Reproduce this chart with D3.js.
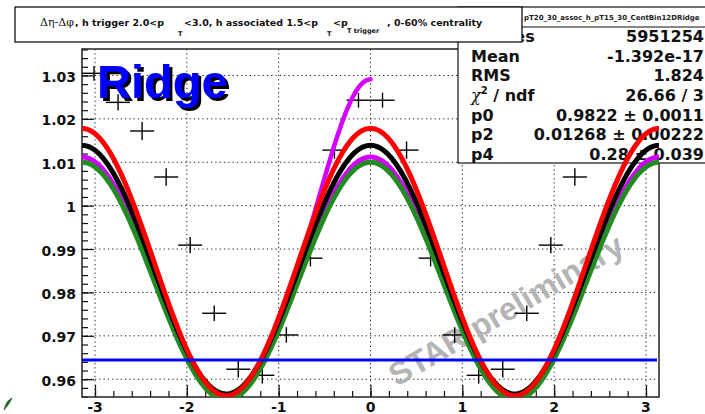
<!DOCTYPE html>
<html>
<head>
<meta charset="utf-8">
<script src="https://cdn.jsdelivr.net/npm/d3@7"></script>
<style>
  html, body { margin: 0; padding: 0; background: #fff; }
  svg { display: block; }
</style>
</head>
<body>
<svg id="chart" width="705" height="414"></svg>
<script>
// Δφ correlation, 24 bins over [-π, π]
const binCount = 24;
const phiRange = [-Math.PI, Math.PI];
const ridgeYield = [1.0305, 1.0238, 1.0172, 1.0066, 0.9909, 0.9752, 0.9623, 0.9609,
                    0.9702, 0.9879, 1.0128, 1.0243, 1.0243, 1.0128, 0.9879, 0.9702,
                    0.9609, 0.9623, 0.9752, 0.9909, 1.0066, 1.0172, 1.0238, 1.0305];
const ridgeError = [0.0017, 0.0019, 0.0021, 0.0020, 0.0019, 0.0018, 0.0019, 0.0019,
                    0.0018, 0.0019, 0.0020, 0.0017, 0.0017, 0.0020, 0.0019, 0.0018,
                    0.0019, 0.0019, 0.0018, 0.0019, 0.0020, 0.0021, 0.0019, 0.0017];

// flow fits: const + amp*cos(2Δφ), listed in drawing order
const fitConst  = [0.9833, 0.9826, 0.98525, 0.9870];
const fitAmp    = [0.0279, 0.0274, 0.02865, 0.0308];
const fitColour = ["#d400ff", "#228b22", "#000000", "#ff0000"];

// near-side gaussian added on top of the magenta flow term
const peakAmp = 0.0179;
const peakSigma = 0.395;
const peakPhiRange = [-0.75, 0];

// flat ZYAM level
const flatLevel = 0.9644;

const xTicks = [-3, -2, -1, 0, 1, 2, 3];
const xTickLabels = ["-3", "-2", "-1", "0", "1", "2", "3"];
const yTicks = [0.96, 0.97, 0.98, 0.99, 1.00, 1.01, 1.02, 1.03];
const yTickLabels = ["0.96", "0.97", "0.98", "0.99", "1", "1.01", "1.02", "1.03"];

const statLabels = ["Entries", "Mean", "RMS", "chi", "p0", "p2", "p4"];
const statValues = ["5951254", "-1.392e-17", "1.824", "26.66 / 3",
                     "0.9822 \u00b1 0.0011", "0.01268 \u00b1 0.00222", "0.28 \u00b1 0.039"];
const histName = "pT20_30_assoc_h_pT15_30_CentBin12DRidge";

const frame = { left: 82, right: 659, top: 49, bottom: 397 };
const rootFont = "'DejaVu Sans', sans-serif";
const svg = d3.select("#chart");

const x = d3.scaleLinear().domain(phiRange).range([frame.left, frame.right]);
const y = d3.scaleLinear().domain([0.9559, 1.0361]).range([frame.bottom, frame.top]);

const defs = svg.append("defs");
const shadow = defs.append("filter").attr("id", "dropShadow")
  .attr("x", "-10%").attr("y", "-10%").attr("width", "130%").attr("height", "140%");
shadow.append("feOffset").attr("in", "SourceAlpha").attr("dx", 3).attr("dy", 3).attr("result", "off");
const merge = shadow.append("feMerge");
merge.append("feMergeNode").attr("in", "off");
merge.append("feMergeNode").attr("in", "SourceGraphic");

svg.append("rect").attr("x", 0).attr("y", 0).attr("width", 705).attr("height", 414).attr("fill", "#fff");

// dotted grid at major ticks
const grid = svg.append("g").attr("stroke", "#222").attr("stroke-width", 1)
  .attr("stroke-dasharray", "1.3,3");
grid.selectAll("line.gx").data(xTicks).join("line")
  .attr("x1", d => x(d)).attr("x2", d => x(d))
  .attr("y1", frame.top).attr("y2", frame.bottom);
grid.selectAll("line.gy").data(yTicks).join("line")
  .attr("x1", frame.left).attr("x2", frame.right)
  .attr("y1", d => y(d)).attr("y2", d => y(d));

// watermark
svg.append("text")
  .attr("transform", "translate(397,387) rotate(-30.5)")
  .attr("font-family", "'Liberation Sans', Arial, sans-serif")
  .attr("font-weight", "bold").attr("font-size", 32)
  .attr("fill", "#b4b4b4")
  .text("STAR preliminary");

// axes (ticks inside the frame)
const styleTicks = g => g.call(s => s.select(".domain").remove())
  .call(s => s.selectAll("line").attr("stroke", "#111").attr("stroke-width", 1.2));
svg.append("g").attr("transform", `translate(${frame.left},0)`)
  .call(d3.axisRight(y).tickValues(d3.range(0.956, 1.0365, 0.002)).tickSize(6).tickFormat(""))
  .call(styleTicks);
svg.append("g").attr("transform", `translate(${frame.left},0)`)
  .call(d3.axisRight(y).tickValues(yTicks).tickSize(12).tickFormat(""))
  .call(styleTicks);
svg.append("g").attr("transform", `translate(0,${frame.bottom})`)
  .call(d3.axisTop(x).tickValues(d3.range(-3, 3.01, 0.2)).tickSize(6).tickFormat(""))
  .call(styleTicks);
svg.append("g").attr("transform", `translate(0,${frame.bottom})`)
  .call(d3.axisTop(x).tickValues(xTicks).tickSize(12).tickFormat(""))
  .call(styleTicks);

// tick labels
svg.append("g").selectAll("text").data(yTicks).join("text")
  .attr("x", 76).attr("y", d => y(d) + 6.5)
  .attr("text-anchor", "end")
  .attr("font-family", rootFont).attr("font-weight", "bold").attr("font-size", 14)
  .attr("fill", "#111")
  .text((d, i) => yTickLabels[i]);
svg.append("g").selectAll("text").data(xTicks).join("text")
  .attr("x", d => x(d)).attr("y", 411.5)
  .attr("text-anchor", "middle")
  .attr("font-family", rootFont).attr("font-weight", "bold").attr("font-size", 14)
  .attr("fill", "#111")
  .text((d, i) => xTickLabels[i]);

// frame outline
svg.append("rect")
  .attr("x", frame.left).attr("y", frame.top)
  .attr("width", frame.right - frame.left).attr("height", frame.bottom - frame.top)
  .attr("fill", "none").attr("stroke", "#222").attr("stroke-width", 1.5);

// histogram points with error bars
const binWidth = (phiRange[1] - phiRange[0]) / binCount;
const bins = ridgeYield.map((v, i) => ({
  phi: phiRange[0] + (i + 0.5) * binWidth, v, e: ridgeError[i]
}));
const pts = svg.append("g").attr("stroke", "#000").attr("stroke-width", 1.4);
pts.selectAll("line.h").data(bins).join("line")
  .attr("x1", d => x(d.phi - binWidth / 2)).attr("x2", d => x(d.phi + binWidth / 2))
  .attr("y1", d => y(d.v)).attr("y2", d => y(d.v));
pts.selectAll("line.v").data(bins).join("line")
  .attr("x1", d => x(d.phi)).attr("x2", d => x(d.phi))
  .attr("y1", d => y(d.v - d.e)).attr("y2", d => y(d.v + d.e));

// statistics box
const stats = svg.append("g");
stats.append("rect").attr("x", 458).attr("y", 7).attr("width", 260).attr("height", 156)
  .attr("fill", "#fff").attr("stroke", "#111").attr("stroke-width", 1.2);
stats.append("line").attr("x1", 458).attr("x2", 705).attr("y1", 27).attr("y2", 27)
  .attr("stroke", "#111").attr("stroke-width", 1.2);
stats.append("text").attr("x", 524).attr("y", 20)
  .attr("font-family", rootFont).attr("font-weight", "bold").attr("font-size", 7)
  .attr("fill", "#222").text(histName);
const rowY = i => 42 + i * 19.65;
statLabels.forEach((lab, i) => {
  const t = stats.append("text").attr("x", 471).attr("y", rowY(i))
    .attr("font-family", rootFont).attr("font-weight", "bold").attr("font-size", 16)
    .attr("fill", "#111");
  if (lab === "chi") {
    t.append("tspan").attr("font-family", "'DejaVu Serif', serif").attr("font-weight", "normal")
      .attr("font-style", "italic").text("\u03c7");
    t.append("tspan").attr("font-size", 10).attr("dy", -7).text("2");
    t.append("tspan").attr("dy", 7).text(" / ndf");
  } else {
    t.text(lab);
  }
  stats.append("text").attr("x", 704).attr("y", rowY(i))
    .attr("text-anchor", "end")
    .attr("font-family", rootFont).attr("font-weight", "bold").attr("font-size", 16)
    .attr("fill", "#111").text(statValues[i]);
});

// title pave
svg.append("rect").attr("x", 15).attr("y", 7).attr("width", 507).attr("height", 35)
  .attr("fill", "#fff").attr("stroke", "#111").attr("stroke-width", 1.3);
const title = svg.append("text").attr("y", 26)
  .attr("font-family", rootFont).attr("font-weight", "bold").attr("font-size", 9.5)
  .attr("fill", "#111");
title.append("tspan").attr("x", 40).attr("font-family", "'DejaVu Serif', serif")
  .attr("font-weight", "normal").attr("font-size", 11).text("\u0394\u03b7-\u0394\u03c6");
title.append("tspan").attr("x", 75).text(", h trigger 2.0<p");
title.append("tspan").attr("x", 178).attr("y", 36).attr("font-size", 6.5).text("T");
title.append("tspan").attr("x", 184).attr("y", 26).text("<3.0, h associated 1.5<p");
title.append("tspan").attr("x", 327).attr("y", 36).attr("font-size", 6.5).text("T");
title.append("tspan").attr("x", 333).attr("y", 26).text("<p");
title.append("tspan").attr("x", 347).attr("y", 33).attr("font-size", 6.5).text("T trigger");
title.append("tspan").attr("x", 387).attr("y", 26).text(", 0-60% centrality");

// fit curves, clipped to the frame
defs.append("clipPath").attr("id", "frameClip").append("rect")
  .attr("x", frame.left).attr("y", frame.top)
  .attr("width", frame.right - frame.left).attr("height", frame.bottom - frame.top);
const curves = svg.append("g").attr("clip-path", "url(#frameClip)");
const phiGrid = d3.range(0, 401).map(k => phiRange[0] + k * (phiRange[1] - phiRange[0]) / 400);
const flow = (c, a) => p => c + a * Math.cos(2 * p);
const line = d3.line().x(d => x(d[0])).y(d => y(d[1]));

// magenta flow + near-side peak
const mFlow = flow(fitConst[0], fitAmp[0]);
const peakGrid = d3.range(0, 101).map(k => peakPhiRange[0] + k * (peakPhiRange[1] - peakPhiRange[0]) / 100);
curves.append("path")
  .attr("d", line(peakGrid.map(p => [p, mFlow(p) + peakAmp * Math.exp(-p * p / (2 * peakSigma * peakSigma))])))
  .attr("fill", "none").attr("stroke", fitColour[0]).attr("stroke-width", 4.5)
  .attr("stroke-linecap", "round");

fitConst.forEach((c, i) => {
  const f = flow(c, fitAmp[i]);
  curves.append("path")
    .attr("d", line(phiGrid.map(p => [p, f(p)])))
    .attr("fill", "none").attr("stroke", fitColour[i]).attr("stroke-width", 5)
    .attr("stroke-linejoin", "round");
});

// flat level
curves.append("line")
  .attr("x1", x(phiRange[0])).attr("x2", x(phiRange[1]) - 2)
  .attr("y1", y(flatLevel)).attr("y2", y(flatLevel))
  .attr("stroke", "#0000ff").attr("stroke-width", 3);

// Ridge label with drop shadow
svg.append("text").attr("x", 97).attr("y", 98)
  .attr("font-family", "'Liberation Sans', Arial, sans-serif")
  .attr("font-weight", "bold").attr("font-size", 47)
  .attr("fill", "#0000ff").attr("filter", "url(#dropShadow)")
  .text("Ridge");

// small green mark in the corner
svg.append("path").attr("d", "M4,410 L6,404 Q8,400 12,398 L10,402 L8,405 Z")
  .attr("fill", "#1b7a1b").attr("stroke", "#0a3a0a").attr("stroke-width", 0.6);
</script>
</body>
</html>
